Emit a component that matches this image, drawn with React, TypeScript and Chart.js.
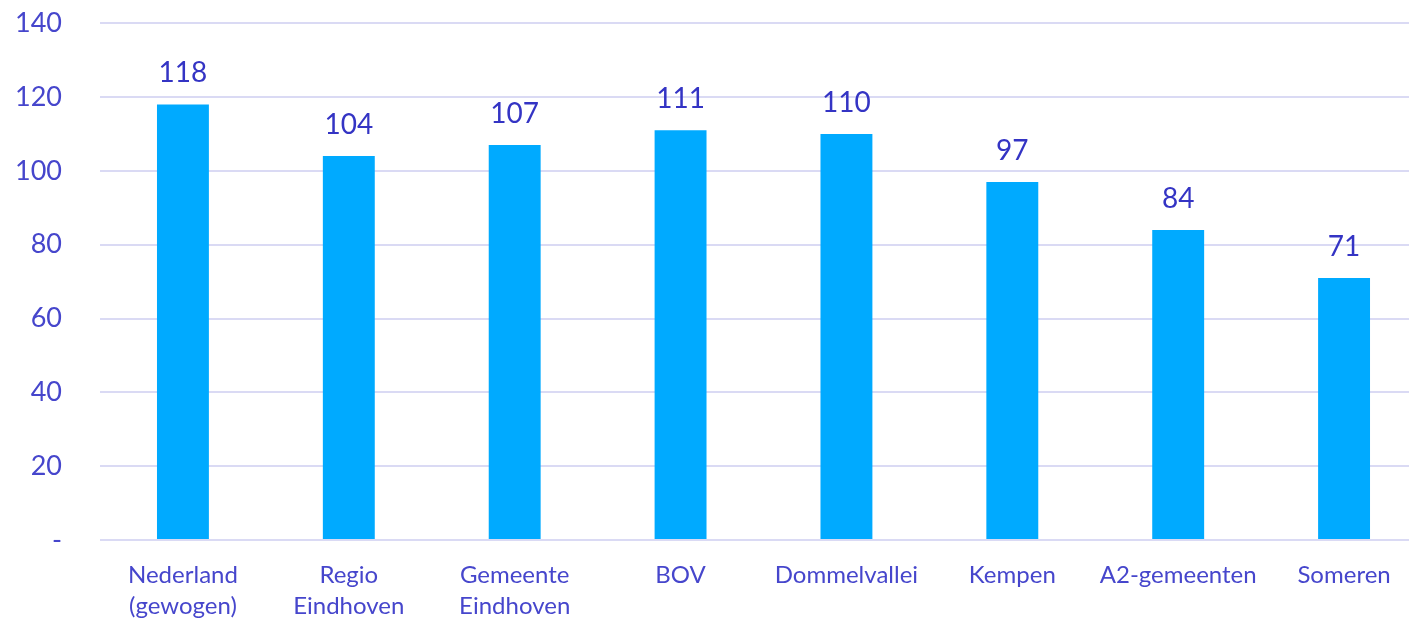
import React, { useEffect, useRef } from "react";
import { Chart, registerables } from "chart.js";

Chart.register(...registerables);

const categories: (string | string[])[] = [
  ["Nederland", "(gewogen)"],
  ["Regio", "Eindhoven"],
  ["Gemeente", "Eindhoven"],
  "BOV",
  "Dommelvallei",
  "Kempen",
  "A2-gemeenten",
  "Someren",
];
const values: number[] = [118, 104, 107, 111, 110, 97, 84, 71];
const yTicks: number[] = [0, 20, 40, 60, 80, 100, 120, 140];

const FONT = "Lato, 'Open Sans', sans-serif";

const dataLabelPlugin = {
  id: "dataLabels",
  afterDatasetsDraw(chart: any) {
    const ctx = chart.ctx;
    const meta = chart.getDatasetMeta(0);
    ctx.save();
    ctx.fillStyle = "#3434C4";
    ctx.font = `28px ${FONT}`;
    ctx.textAlign = "center";
    ctx.textBaseline = "middle";
    meta.data.forEach((bar: any, i: number) => {
      ctx.fillText(String(values[i]), bar.x, bar.y - 31);
    });
    ctx.restore();
  },
};

export default function App() {
  const ref = useRef<HTMLCanvasElement | null>(null);
  useEffect(() => {
    if (!ref.current) return;
    const chart = new Chart(ref.current, {
      type: "bar",
      data: {
        labels: categories,
        datasets: [
          {
            data: values,
            backgroundColor: "#00AAFF",
            borderWidth: 0,
            barPercentage: 0.313,
            categoryPercentage: 1,
          },
        ],
      },
      options: {
        responsive: true,
        maintainAspectRatio: false,
        animation: false,
        layout: { padding: { top: 9, left: 0, right: 0, bottom: 0 } },
        plugins: {
          legend: { display: false },
          tooltip: { enabled: false },
        },
        scales: {
          x: {
            grid: { display: false, drawTicks: false },
            border: { display: false },
            ticks: {
              color: "#4646CC",
              font: { family: FONT, size: 24, lineHeight: 1.29 },
              padding: 20,
              maxRotation: 0,
              autoSkip: false,
            },
          },
          y: {
            min: 0,
            max: 140,
            afterFit(scale: any) {
              scale.width = 100;
            },
            afterBuildTicks(scale: any) {
              scale.ticks = yTicks.map((v) => ({ value: v }));
            },
            grid: { color: "#DADAF4", lineWidth: 2, drawTicks: false },
            border: { display: false },
            ticks: {
              color: "#4646CC",
              font: { family: FONT, size: 27 },
              padding: 38,
              callback: (v: any) => (Number(v) === 0 ? "-" : String(v)),
            },
          },
        },
      },
      plugins: [dataLabelPlugin],
    });
    return () => chart.destroy();
  }, []);
  return (
    <div
      style={{
        position: "fixed",
        left: 0,
        top: 0,
        width: 1409,
        height: 619,
        overflow: "hidden",
        background: "#fff",
      }}
    >
      <div style={{ position: "absolute", left: 0, top: -31, width: 1427, height: 673 }}>
        <canvas ref={ref} />
      </div>
    </div>
  );
}
